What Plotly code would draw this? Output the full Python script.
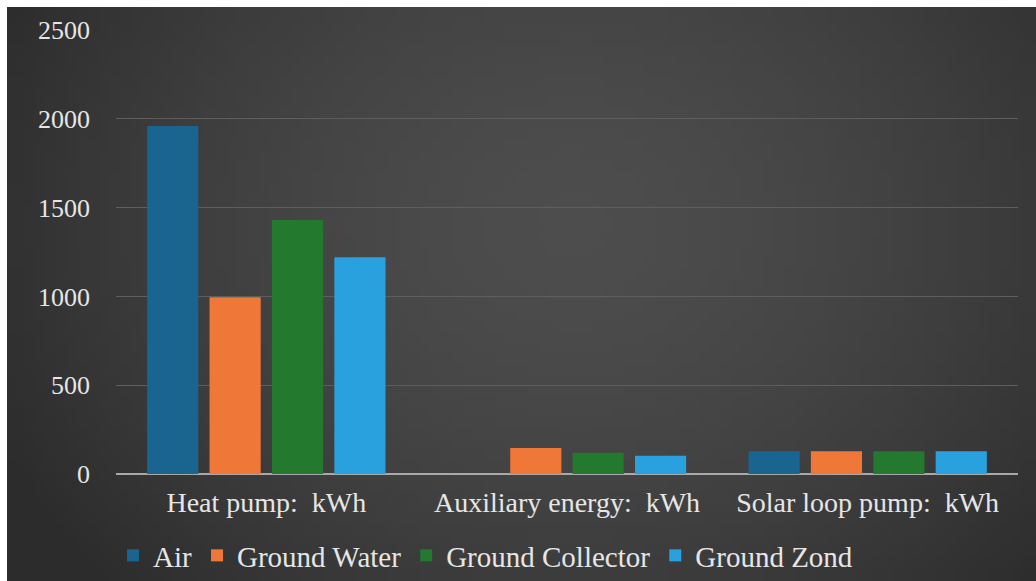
import base64
import struct
import zlib

import plotly.graph_objects as go

# Energy use per heat-pump source type
categories = ["Heat pump:  kWh", "Auxiliary energy:  kWh", "Solar loop pump:  kWh"]
series_names = ["Air", "Ground Water", "Ground Collector", "Ground Zond"]
air = [1960, 0, 128]
ground_water = [995, 146, 128]
ground_collector = [1430, 120, 128]
ground_zond = [1220, 103, 128]
y_ticks = [0, 500, 1000, 1500, 2000, 2500]

series_values = [air, ground_water, ground_collector, ground_zond]
colors = ["#1a6590", "#ef7838", "#23792d", "#29a1df"]


def radial_png(w, h):
    """Small dark vignette image, stretched behind the chart."""
    rows = []
    for j in range(h):
        row = bytearray([0])
        for i in range(w):
            dx = (i / (w - 1) - 0.55) / 0.62
            dy = (j / (h - 1) - 0.38) / 0.95
            d = min(1.0, (dx * dx + dy * dy) ** 0.5)
            v = int(round(77 - (77 - 44) * d ** 1.6))
            row += bytes([v, v, v])
        rows.append(bytes(row))
    raw = b"".join(rows)

    def chunk(tag, data):
        c = tag + data
        return struct.pack(">I", len(data)) + c + struct.pack(">I", zlib.crc32(c) & 0xFFFFFFFF)

    png = b"\x89PNG\r\n\x1a\n"
    png += chunk(b"IHDR", struct.pack(">IIBBBBB", w, h, 8, 2, 0, 0, 0))
    png += chunk(b"IDAT", zlib.compress(raw, 9))
    png += chunk(b"IEND", b"")
    return "data:image/png;base64," + base64.b64encode(png).decode()


fig = go.Figure()
for name, vals, col in zip(series_names, series_values, colors):
    fig.add_trace(go.Bar(
        name=name,
        x=categories,
        y=vals,
        marker=dict(color=col, line=dict(width=0)),
    ))

W, H = 1036, 581
ml, mr, mt, mb = 116, 18, 30, 107
pw, ph = W - ml - mr, H - mt - mb


def px_to_paper_x(px):
    return (px - ml) / pw


def px_to_paper_y(py):
    return (H - mb - py) / ph


fig.update_layout(
    width=W,
    height=H,
    margin=dict(l=ml, r=mr, t=mt, b=mb, pad=0, autoexpand=False),
    paper_bgcolor="white",
    plot_bgcolor="rgba(0,0,0,0)",
    barmode="group",
    bargap=0.17,
    bargroupgap=0.18,
    font=dict(family="Liberation Serif", color="#e6e6e6", size=20),
    images=[dict(
        source=radial_png(96, 54),
        xref="paper", yref="paper",
        x=px_to_paper_x(7), y=px_to_paper_y(7),
        sizex=px_to_paper_x(W) - px_to_paper_x(7),
        sizey=px_to_paper_y(7) - px_to_paper_y(H),
        xanchor="left", yanchor="top",
        sizing="stretch",
        layer="below",
    )],
    legend=dict(
        orientation="h",
        xref="container", yref="container",
        x=113 / W, xanchor="left",
        y=0, yanchor="bottom",
        font=dict(family="Liberation Serif", size=29, color="#e6e6e6"),
        bgcolor="rgba(0,0,0,0)",
        itemsizing="constant",
        tracegroupgap=0,
    ),
    showlegend=True,
)

fig.update_xaxes(
    showgrid=False,
    showline=False,
    ticks="",
    tickvals=categories,
    ticktext=[c.replace("  ", "\u00a0 ") for c in categories],
    tickfont=dict(family="Liberation Serif", size=28, color="#e6e6e6"),
    ticklabelstandoff=9,
)
fig.update_yaxes(
    range=[0, 2500],
    tickvals=y_ticks,
    ticktext=[str(v) for v in y_ticks],
    showgrid=True,
    gridcolor="#5e5e5e",
    gridwidth=1,
    zeroline=True,
    zerolinecolor="#a9a9a9",
    zerolinewidth=2,
    ticks="",
    tickfont=dict(family="Liberation Serif", size=26, color="#e6e6e6"),
    ticklabelstandoff=25,
)

fig.write_html("out.html")
